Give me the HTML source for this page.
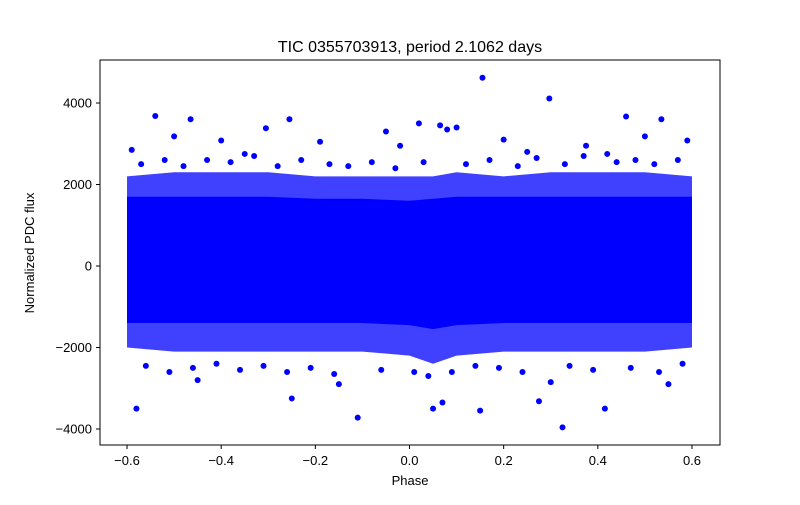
<!DOCTYPE html>
<html><head><meta charset="utf-8"><style>
body{margin:0;background:#fff;font-family:"Liberation Sans",sans-serif}
svg text{font-family:"Liberation Sans",sans-serif;fill:#000}
</style></head><body>
<svg width="800" height="500" xmlns="http://www.w3.org/2000/svg">
<rect width="800" height="500" fill="#fff"/>
<g id="marks"></g>
<rect x="100" y="60" width="620" height="385" fill="none" stroke="#000" stroke-width="1"/>
<g id="axes"></g>
<text x="410" y="52" text-anchor="middle" font-size="16">TIC 0355703913, period 2.1062 days</text>
<text x="410" y="485" text-anchor="middle" font-size="13">Phase</text>
<text x="34" y="253" text-anchor="middle" font-size="13" transform="rotate(-90 34 253)">Normalized PDC flux</text>
</svg>
<script>
const xTicks=[-0.6,-0.4,-0.2,0.0,0.2,0.4,0.6];
const xTickLabels=["\u22120.6","\u22120.4","\u22120.2","0.0","0.2","0.4","0.6"];
const yTicks=[-4000,-2000,0,2000,4000];
const yTickLabels=["\u22124000","\u22122000","0","2000","4000"];
// envelope of the dense band, per phase bin
const binPhase=[-0.6,-0.5,-0.4,-0.3,-0.2,-0.1,0.0,0.05,0.1,0.2,0.3,0.4,0.5,0.6];
const coreUpper=[1700,1700,1700,1700,1650,1650,1600,1650,1700,1700,1700,1700,1700,1700];
const coreLower=[-1400,-1400,-1400,-1400,-1400,-1400,-1450,-1550,-1450,-1400,-1400,-1400,-1400,-1400];
const fringeUpper=[2200,2300,2300,2300,2200,2200,2200,2200,2300,2200,2300,2300,2300,2200];
const fringeLower=[-2000,-2100,-2100,-2100,-2100,-2100,-2200,-2400,-2200,-2100,-2100,-2100,-2100,-2000];
const outPhase=[0.155,0.297,-0.54,-0.465,0.46,0.535,-0.255,0.02,0.065,-0.305,0.08,-0.58,-0.11,0.325,0.15,0.05,0.415,-0.25,0.07,0.275,-0.4,0.59,-0.5,0.5,-0.19,0.2,0.375,-0.05,0.1,-0.59,-0.35,0.25,0.42,-0.15,0.01,-0.45,0.55,-0.02,0.3,
 -0.57,-0.52,-0.48,-0.43,-0.38,-0.33,-0.28,-0.23,-0.17,-0.13,-0.08,-0.03,0.03,0.12,0.17,0.23,0.27,0.33,0.37,0.44,0.48,0.52,0.57,
 -0.56,-0.51,-0.46,-0.41,-0.36,-0.31,-0.26,-0.21,-0.16,-0.06,0.04,0.09,0.14,0.19,0.24,0.34,0.39,0.47,0.53,0.58];
const outFlux=[4620,4110,3680,3600,3670,3600,3600,3500,3450,3380,3350,-3500,-3720,-3960,-3550,-3500,-3500,-3250,-3350,-3320,3080,3080,3180,3180,3050,3100,2950,3300,3400,2850,2750,2800,2750,-2900,-2600,-2800,-2900,2950,-2850,
 2500,2600,2450,2600,2550,2700,2450,2600,2500,2450,2550,2400,2550,2500,2600,2450,2650,2500,2700,2550,2600,2500,2600,
 -2450,-2600,-2500,-2400,-2550,-2450,-2600,-2500,-2650,-2550,-2700,-2600,-2450,-2500,-2600,-2450,-2550,-2500,-2600,-2400];
const X=p=>409.5+p*470.8;
const Y=f=>266-f*0.04075;
const NS="http://www.w3.org/2000/svg";
const marks=document.getElementById('marks'),axes=document.getElementById('axes');
function poly(up,lo,op,name){
  let pts=binPhase.map((p,i)=>X(p)+","+Y(up[i]));
  for(let i=binPhase.length-1;i>=0;i--)pts.push(X(binPhase[i])+","+Y(lo[i]));
  const e=document.createElementNS(NS,'polygon');
  e.setAttribute('points',pts.join(' '));
  e.setAttribute('fill','#0000ff');e.setAttribute('fill-opacity',op);
  
  
  marks.appendChild(e);
}
poly(fringeUpper,fringeLower,0.75,'fringe-band');
poly(coreUpper,coreLower,1,'core-band');
outPhase.forEach((p,i)=>{
  const c=document.createElementNS(NS,'circle');
  c.setAttribute('cx',X(p));c.setAttribute('cy',Y(outFlux[i]));c.setAttribute('r',3);c.setAttribute('fill','#0000ff');
  
  
  marks.appendChild(c);
});
xTicks.forEach((t,i)=>{
  const l=document.createElementNS(NS,'line');
  l.setAttribute('x1',X(t));l.setAttribute('x2',X(t));l.setAttribute('y1',445);l.setAttribute('y2',449);l.setAttribute('stroke','#000');
  
  
  axes.appendChild(l);
  const tx=document.createElementNS(NS,'text');
  tx.setAttribute('x',X(t));tx.setAttribute('y',465);tx.setAttribute('text-anchor','middle');tx.setAttribute('font-size','13');
  tx.textContent=xTickLabels[i];
  
  
  axes.appendChild(tx);
});
yTicks.forEach((t,i)=>{
  const l=document.createElementNS(NS,'line');
  l.setAttribute('x1',96);l.setAttribute('x2',100);l.setAttribute('y1',Y(t));l.setAttribute('y2',Y(t));l.setAttribute('stroke','#000');
  
  
  axes.appendChild(l);
  const tx=document.createElementNS(NS,'text');
  tx.setAttribute('x',92);tx.setAttribute('y',Y(t)+4.5);tx.setAttribute('text-anchor','end');tx.setAttribute('font-size','13');
  tx.textContent=yTickLabels[i];
  
  
  axes.appendChild(tx);
});
</script>
</body></html>
